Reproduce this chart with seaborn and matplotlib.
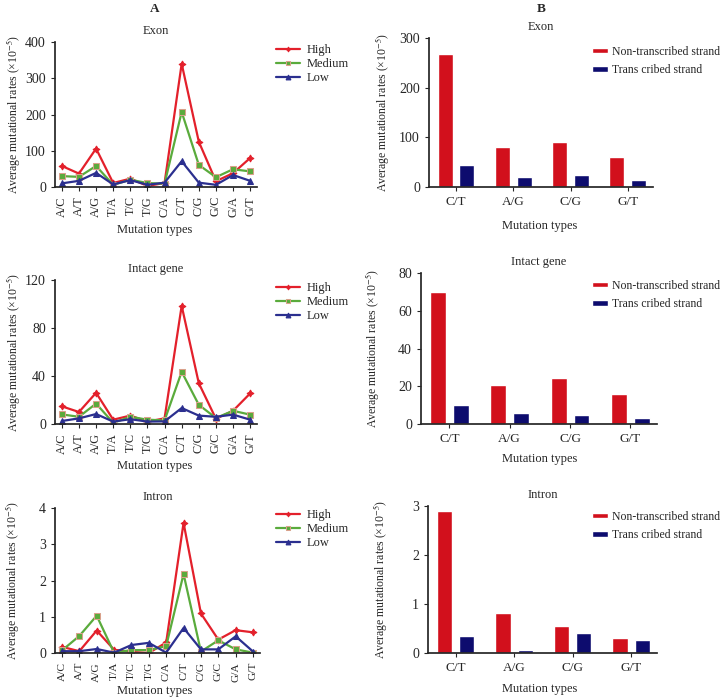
import numpy as np
import pandas as pd
import seaborn as sns
from matplotlib import pyplot as plt

# mutation types on the line panels (A)
types = ["A/C", "A/T", "A/G", "T/A", "T/C", "T/G", "C/A", "C/T", "C/G", "G/C", "G/A", "G/T"]
levels = ["High", "Medium", "Low"]

exon_high = [58, 37, 106, 11, 23, 3, 11, 340, 125, 16, 38, 80]
exon_medium = [30, 28, 58, 6, 20, 11, 9, 207, 61, 27, 49, 43]
exon_low = [10, 17, 39, 7, 19, 6, 12, 71, 12, 6, 33, 17]

intact_high = [14.7, 10, 26, 3.6, 7, 2, 4.7, 98.5, 34, 4.4, 11, 25.5]
intact_medium = [8, 6, 17, 1, 6, 3.6, 3, 43.5, 16, 5, 11, 7.8]
intact_low = [2.5, 4.7, 8.3, 2, 4, 2, 2.2, 13.3, 7, 6, 7.8, 3.6]

intron_high = [0.17, 0.05, 0.62, 0.09, 0.03, 0.0, 0.29, 3.59, 1.09, 0.37, 0.63, 0.57]
intron_medium = [0.07, 0.47, 1.03, 0.01, 0.08, 0.08, 0.19, 2.18, 0.04, 0.35, 0.10, 0.01]
intron_low = [0.05, 0.05, 0.11, 0.01, 0.22, 0.28, 0.01, 0.69, 0.10, 0.10, 0.46, 0.04]

# strand bias panels (B)
bar_types = ["C/T", "A/G", "C/G", "G/T"]
strands = ["Non-transcribed strand", "Trans cribed strand"]
exon_nts = [268, 81, 91, 60]
exon_ts = [44.5, 21, 23.6, 13.5]
intact_nts = [69.8, 20.8, 24.2, 16.1]
intact_ts = [10.1, 5.8, 4.6, 3.2]
intron_nts = [2.9, 0.82, 0.56, 0.31]
intron_ts = [0.35, 0.07, 0.41, 0.26]

sns.set_theme(style="ticks")
plt.rcParams["font.family"] = ["Liberation Serif", "DejaVu Serif"]
plt.rcParams["mathtext.fontset"] = "stix"

line_colors = {"High": "#e3202b", "Medium": "#5aab3c", "Low": "#2b2f8f"}
line_markers = {"High": (4, 1, 0), "Medium": "s", "Low": "^"}
bar_colors = {"Non-transcribed strand": "#d2101c", "Trans cribed strand": "#0d0c6e"}

W, H = 724, 698
fig = plt.figure(figsize=(W / 100, H / 100), dpi=100)


def px_axes(x0, y0, x1, y1):
    return fig.add_axes([x0 / W, 1 - y1 / H, (x1 - x0) / W, (y1 - y0) / H])


ylab = "Average mutational rates (\u00d710$^{-5}$)"


def line_panel(box, title, high, medium, low, ymax, step, xlab_y, leg_y, tick_size=8.8):
    ax = px_axes(*box)
    df = pd.DataFrame({"type": types * 3,
                       "rate": high + medium + low,
                       "level": np.repeat(levels, len(types))})
    sns.lineplot(data=df, x="type", y="rate", hue="level", style="level",
                 palette=line_colors, markers=line_markers, dashes=False,
                 markersize=5, linewidth=1.6, markeredgecolor=None, ax=ax)
    for ln in ax.lines:
        if ln.get_marker() == "s":
            ln.set_markeredgecolor("#d9a08a")
    ax.set_xlim(-0.4, 11.4)
    ax.set_ylim(0, ymax)
    ax.set_yticks(np.arange(0, ymax + step / 2, step))
    ax.tick_params(axis="x", rotation=90, labelsize=tick_size, length=3, width=0.8)
    ax.tick_params(axis="y", labelsize=10, length=3, width=0.8)
    ax.set_title(title, fontsize=9, pad=6)
    ax.set_xlabel("")
    ax.set_ylabel(ylab, fontsize=8.5)
    ax.yaxis.set_label_coords(-0.165, 0.5)
    fig.text(155 / W, 1 - xlab_y / H, "Mutation types", ha="center", va="center", fontsize=9)
    sns.despine(ax=ax)
    handles, labels = ax.get_legend_handles_labels()
    ax.legend(handles, labels, frameon=False, fontsize=9, loc="upper left",
              bbox_to_anchor=(270 / W, 1 - leg_y / H), bbox_transform=fig.transFigure,
              handlelength=1.9, handletextpad=0.5, labelspacing=0.15, borderpad=0)
    for lh in ax.get_legend().get_lines():
        lh.set_markersize(3.5)


def bar_panel(box, title, nts, ts, ymax, step, xlab_y, leg_y):
    ax = px_axes(*box)
    df = pd.DataFrame({"type": bar_types * 2,
                       "rate": nts + ts,
                       "strand": np.repeat(strands, len(bar_types))})
    sns.barplot(data=df, x="type", y="rate", hue="strand", palette=bar_colors,
                width=0.76, gap=0.31, saturation=1, ax=ax)
    ax.set_xlim(-0.47, 3.44)
    ax.set_ylim(0, ymax)
    ax.set_yticks(np.arange(0, ymax + step / 2, step))
    ax.tick_params(axis="x", labelsize=9.5, length=3, width=0.8)
    ax.tick_params(axis="y", labelsize=10, length=3, width=0.8)
    ax.set_title(title, fontsize=9, pad=6)
    ax.set_xlabel("")
    ax.set_ylabel(ylab, fontsize=8.5)
    ax.yaxis.set_label_coords(-0.17, 0.5)
    fig.text(540 / W, 1 - xlab_y / H, "Mutation types", ha="center", va="center", fontsize=9)
    sns.despine(ax=ax)
    handles, labels = ax.get_legend_handles_labels()
    ax.legend(handles, labels, frameon=False, fontsize=8.5, loc="upper left",
              bbox_to_anchor=(586 / W, 1 - leg_y / H), bbox_transform=fig.transFigure,
              handlelength=1.35, handleheight=0.35, handletextpad=0.35,
              labelspacing=0.55, borderpad=0)


line_panel((55, 42, 257, 187), "Exon", exon_high, exon_medium, exon_low, 400, 100, 230, 38)
line_panel((55, 280, 257, 424), "Intact gene", intact_high, intact_medium, intact_low, 120, 40, 466, 276)
line_panel((55, 508, 260, 653), "Intron", intron_high, intron_medium, intron_low, 4, 1, 691, 503,
           tick_size=8.2)

bar_panel((429, 38, 653, 187), "Exon", exon_nts, exon_ts, 300, 100, 226, 40)
bar_panel((421, 273, 657, 424), "Intact gene", intact_nts, intact_ts, 80, 20, 459, 274)
bar_panel((428, 506, 657, 653), "Intron", intron_nts, intron_ts, 3, 1, 689, 505)

fig.text(155 / W, 1 - 9 / H, "A", ha="center", va="center", fontsize=9.5, fontweight="bold")
fig.text(541 / W, 1 - 9 / H, "B", ha="center", va="center", fontsize=9.5, fontweight="bold")

fig.savefig("out.png", dpi=100)
